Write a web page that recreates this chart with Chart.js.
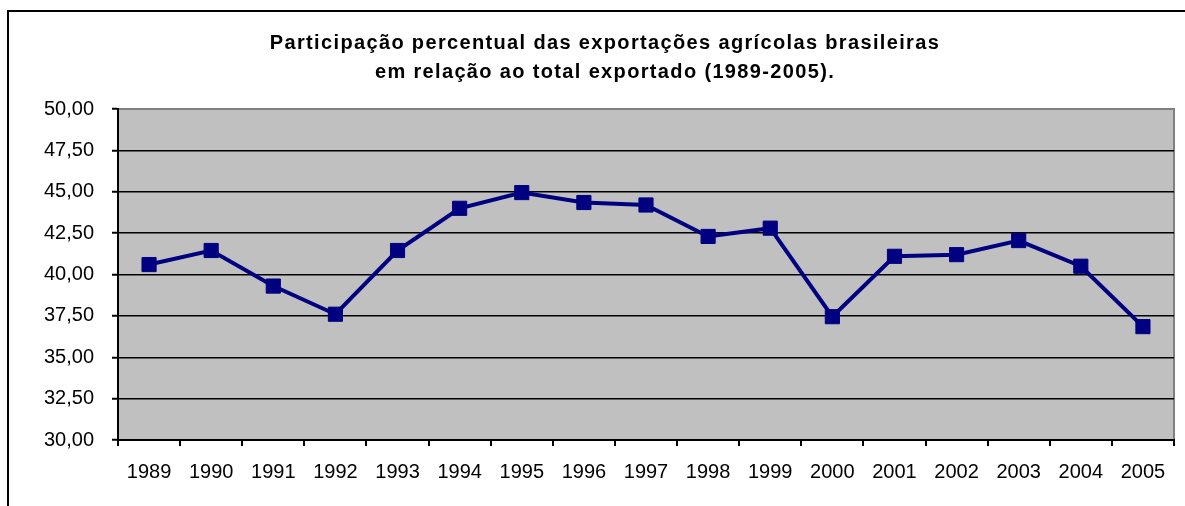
<!DOCTYPE html>
<html lang="pt">
<head>
<meta charset="utf-8">
<title>Exportações agrícolas</title>
<script src="https://cdn.jsdelivr.net/npm/chart.js@4"></script>
<style>
    html, body { margin: 0; padding: 0; background: #fff; overflow: hidden; }
    #wrap { position: relative; width: 1185px; height: 506px; }
    #frame { position: absolute; left: 7px; top: 10px; width: 1220px; height: 560px;
             border: 2px solid #000; pointer-events: none; }
</style>
</head>
<body>
<div id="wrap">
    <canvas id="exportChart" width="1185" height="506"></canvas>
    <div id="frame"></div>
</div>
<script>
// Dados do gráfico
const years = ['1989', '1990', '1991', '1992', '1993', '1994', '1995', '1996', '1997',
               '1998', '1999', '2000', '2001', '2002', '2003', '2004', '2005'];
const shareValues = [40.6, 41.45, 39.3, 37.6, 41.45, 44.0, 44.95, 44.35, 44.2,
                     42.3, 42.8, 37.45, 41.1, 41.2, 42.05, 40.5, 36.85];
const yTicks = [30, 32.5, 35, 37.5, 40, 42.5, 45, 47.5, 50];
const titleLines = ['Participação percentual das exportações agrícolas brasileiras',
                    'em relação ao total exportado (1989-2005).'];

const FONT = 'Arial, "Liberation Sans", sans-serif';

// Fundo cinza da área de plotagem + título
const plotBackground = {
    id: 'plotBackground',
    beforeDraw(chart) {
        const { ctx, chartArea: a } = chart;
        ctx.save();
        ctx.fillStyle = '#C0C0C0';
        ctx.fillRect(a.left, a.top, a.right - a.left, a.bottom - a.top);
        ctx.strokeStyle = '#808080';
        ctx.lineWidth = 2;
        ctx.beginPath();
        ctx.moveTo(a.left, a.top);
        ctx.lineTo(a.right, a.top);
        ctx.lineTo(a.right, a.bottom);
        ctx.stroke();

        // título
        ctx.fillStyle = '#000';
        ctx.font = 'bold 20px ' + FONT;
        ctx.letterSpacing = '1.35px';
        ctx.textAlign = 'center';
        ctx.textBaseline = 'middle';
        ctx.fillText(titleLines[0], 605, 43);
        ctx.fillText(titleLines[1], 605, 72);
        ctx.restore();
    }
};

function initChart() {
    const ctx = document.getElementById('exportChart').getContext('2d');

    new Chart(ctx, {
        type: 'line',
        data: {
            labels: years,
            datasets: [{
                data: shareValues,
                borderColor: '#000080',
                backgroundColor: '#000080',
                borderWidth: 4,
                tension: 0,
                fill: false,
                pointStyle: 'rect',
                pointRadius: 10,
                pointBorderWidth: 1,
                pointBorderColor: '#000080',
                pointBackgroundColor: '#000080'
            }]
        },
        options: {
            responsive: false,
            animation: false,
            layout: { padding: { top: 109, right: 7, left: 0, bottom: 0 } },
            plugins: {
                legend: { display: false },
                tooltip: { enabled: false },
                title: { display: false }
            },
            scales: {
                x: {
                    offset: true,
                    afterFit: s => { s.height = 66; },
                    grid: {
                        offset: true,
                        drawOnChartArea: false,
                        drawTicks: true,
                        tickLength: 6,
                        color: '#000',
                        lineWidth: 2
                    },
                    border: { display: true, color: '#000', width: 2 },
                    ticks: {
                        color: '#000',
                        padding: 14,
                        maxRotation: 0,
                        autoSkip: false,
                        font: { family: FONT, size: 20 }
                    }
                },
                y: {
                    min: 30,
                    max: 50,
                    afterFit: s => { s.width = 118; },
                    afterBuildTicks: s => { s.ticks = yTicks.map(v => ({ value: v })); },
                    grid: {
                        color: c => (c.tick && c.tick.value === 50) ? '#808080' : '#000',
                        lineWidth: 1.5,
                        drawTicks: true,
                        tickLength: 6,
                        tickColor: '#000',
                        tickWidth: 2
                    },
                    border: { display: true, color: '#000', width: 2 },
                    ticks: {
                        color: '#000',
                        padding: 18,
                        font: { family: FONT, size: 20 },
                        callback: v => v.toFixed(2).replace('.', ',')
                    }
                }
            }
        },
        plugins: [plotBackground]
    });
}

initChart();
</script>
</body>
</html>
